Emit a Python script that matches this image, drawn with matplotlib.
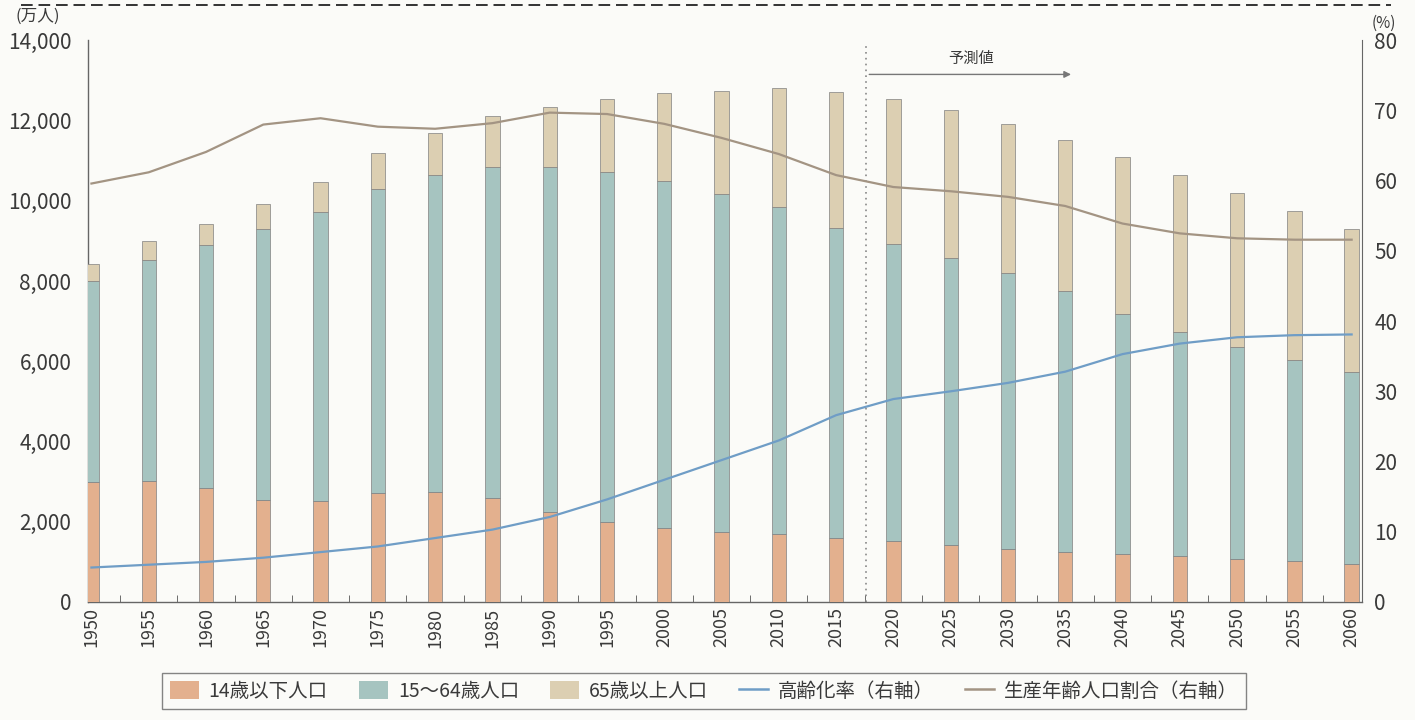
import numpy as np
import matplotlib.pyplot as plt
from matplotlib.lines import Line2D
from matplotlib.patches import Patch

plt.rcParams['font.family'] = ['Noto Sans CJK JP', 'DejaVu Sans']

# === Data (万人 / %) ===
years = [1950, 1955, 1960, 1965, 1970, 1975, 1980, 1985, 1990, 1995, 2000, 2005,
         2010, 2015, 2020, 2025, 2030, 2035, 2040, 2045, 2050, 2055, 2060]
young = [2979, 3012, 2843, 2553, 2515, 2722, 2751, 2603, 2249, 2001, 1847, 1752,
         1684, 1595, 1508, 1407, 1321, 1246, 1194, 1138, 1077, 1012, 951]
working = [5017, 5517, 6047, 6744, 7212, 7581, 7883, 8251, 8590, 8716, 8638, 8409,
           8173, 7728, 7406, 7170, 6875, 6494, 5978, 5584, 5275, 5028, 4793]
elderly = [416, 479, 540, 624, 739, 887, 1065, 1247, 1493, 1826, 2204, 2576,
           2948, 3387, 3619, 3677, 3716, 3782, 3921, 3919, 3841, 3704, 3540]
aging_rate = [4.9, 5.3, 5.7, 6.3, 7.1, 7.9, 9.1, 10.3, 12.1, 14.6, 17.4, 20.2,
              23.0, 26.6, 28.9, 30.0, 31.2, 32.8, 35.3, 36.8, 37.7, 38.0, 38.1]
working_ratio = [59.6, 61.2, 64.1, 68.0, 68.9, 67.7, 67.4, 68.2, 69.7, 69.5, 68.1, 66.1,
                 63.8, 60.8, 59.1, 58.5, 57.7, 56.4, 53.9, 52.5, 51.8, 51.6, 51.6]

labels = ['14歳以下人口', '15～64歳人口', '65歳以上人口', '高齢化率（右軸）', '生産年齢人口割合（右軸）']

# === Colours ===
c_young = '#E3B08E'
c_work = '#A6C4C0'
c_old = '#DCCFB2'
c_aging = '#6F9DC6'
c_ratio = '#A39483'
txt = '#3a3a3a'

fig = plt.figure(figsize=(14.15, 7.2), dpi=100)
fig.patch.set_facecolor('#fbfbf8')
ax = fig.add_axes([0.0622, 0.164, 0.9003, 0.78])
ax.set_facecolor('none')

x = np.arange(len(years))
young_a = np.array(young)
work_a = np.array(working)
old_a = np.array(elderly)
bw = 0.25
ec = '#808080'
ax.bar(x, young_a, bw, color=c_young, edgecolor=ec, linewidth=0.5, zorder=3)
ax.bar(x, work_a, bw, bottom=young_a, color=c_work, edgecolor=ec, linewidth=0.5, zorder=3)
ax.bar(x, old_a, bw, bottom=young_a + work_a, color=c_old, edgecolor=ec, linewidth=0.5, zorder=3)

ax.set_xlim(-0.06, 22.18)
ax.set_ylim(0, 14000)
ax.set_yticks(range(0, 14001, 2000))
ax.set_yticklabels([f'{v:,}' for v in range(0, 14001, 2000)], fontsize=15, color=txt)
ax.set_xticks(x)
ax.set_xticklabels([str(y) for y in years], rotation=90, fontsize=13, color=txt)
ax.set_xticks(x[:-1] + 0.5, minor=True)
ax.tick_params(axis='x', which='major', length=0, pad=4)
ax.tick_params(axis='x', which='minor', direction='in', length=5, color='#555')
ax.tick_params(axis='y', length=0, pad=12)
for s in ['top', 'right']:
    ax.spines[s].set_visible(False)
for s in ['left', 'bottom']:
    ax.spines[s].set_color('#666')
    ax.spines[s].set_linewidth(1.0)

# forecast marker
ax.plot([13.53, 13.53], [0, 13850], color='#888', linestyle=(0, (1, 2.5)), linewidth=1.2, zorder=2)
ax.annotate('', xy=(17.15, 13150), xytext=(13.53, 13150),
            arrowprops=dict(arrowstyle='-|>', color='#777', lw=1.0, mutation_scale=10))
ax.text(15.35, 13330, '予測値', fontsize=11, color=txt, ha='center', va='bottom')

# === Right axis: ratios ===
ax2 = ax.twinx()
ax2.plot(x, aging_rate, color=c_aging, linewidth=1.6, zorder=4)
ax2.plot(x, working_ratio, color=c_ratio, linewidth=1.6, zorder=4)
ax2.set_ylim(0, 80)
ax2.set_yticks(range(0, 81, 10))
ax2.set_yticklabels([str(v) for v in range(0, 81, 10)], fontsize=15, color=txt)
ax2.tick_params(axis='y', length=0, pad=9)
for s in ['top', 'left', 'bottom']:
    ax2.spines[s].set_visible(False)
ax2.spines['right'].set_color('#666')

fig.text(0.011, 0.977, '(万人)', fontsize=12, color=txt, va='center')
fig.text(0.969, 0.968, '(%)', fontsize=11, color=txt, va='center')

# page border line from the scan
fig.add_artist(Line2D([0.015, 0.983], [0.993, 0.993], color='#333', linestyle=(0, (6, 3)),
                      linewidth=1.4, transform=fig.transFigure))

handles = [Patch(facecolor=c_young, edgecolor='none'),
           Patch(facecolor=c_work, edgecolor='none'),
           Patch(facecolor=c_old, edgecolor='none'),
           Line2D([], [], color=c_aging, linewidth=1.8),
           Line2D([], [], color=c_ratio, linewidth=1.8)]
leg = fig.legend(handles, labels, loc='center', bbox_to_anchor=(0.4975, 0.04), ncol=5,
                 fontsize=14, frameon=True, fancybox=False, handlelength=1.5,
                 handleheight=1.0, columnspacing=1.6, handletextpad=0.5,
                 borderpad=0.4, borderaxespad=0.0)
leg.get_frame().set_edgecolor('#666')
leg.get_frame().set_linewidth(1.0)
leg.get_frame().set_facecolor('#fbfbf8')
for t in leg.get_texts():
    t.set_color(txt)

plt.savefig('out.png', dpi=100, facecolor=fig.get_facecolor())
